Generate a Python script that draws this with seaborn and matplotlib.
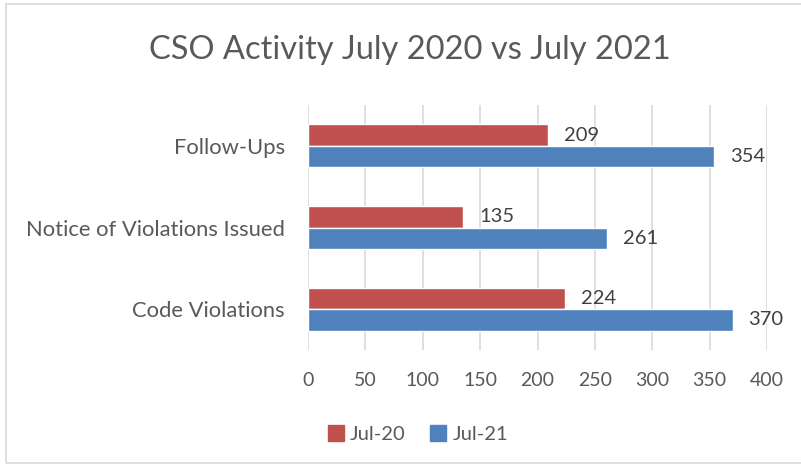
import matplotlib
matplotlib.use('Agg')
import matplotlib.pyplot as plt
import seaborn as sns
import pandas as pd

categories = ['Follow-Ups', 'Notice of Violations Issued', 'Code Violations']
jul_20 = [209, 135, 224]
jul_21 = [354, 261, 370]
series = ['Jul-20', 'Jul-21']
x_ticks = [0, 50, 100, 150, 200, 250, 300, 350, 400]

df = pd.DataFrame({
    'category': categories * 2,
    'value': jul_20 + jul_21,
    'series': [series[0]] * 3 + [series[1]] * 3,
})

sns.set_theme(style='white')
plt.rcParams['font.family'] = ['Lato', 'DejaVu Sans']
text_color = '#595959'

fig = plt.figure(figsize=(8.01, 4.67), dpi=100)
ax = fig.add_axes([308 / 801, 1 - 350 / 467, 459 / 801, 245 / 467])

sns.barplot(data=df, y='category', x='value', hue='series', hue_order=series,
            order=categories, palette=['#C0504D', '#4F81BD'], orient='h',
            width=0.53, saturation=1, ax=ax, legend=False)

for container in ax.containers:
    ax.bar_label(container, padding=11.5, fontsize=14.5, color='#404040')

ax.set_xlim(0, 400)
ax.set_xticks(x_ticks)
ax.set_xlabel('')
ax.set_ylabel('')
ax.grid(axis='x', color='#D9D9D9', linewidth=1.2)
ax.set_axisbelow(True)
for side in ['top', 'right', 'bottom', 'left']:
    ax.spines[side].set_visible(False)
ax.tick_params(axis='x', labelsize=14, colors=text_color, pad=16, length=0)
ax.tick_params(axis='y', labelsize=15.8, colors=text_color, pad=16.5, length=0)

fig.text(410 / 801, 1 - 50 / 467, 'CSO Activity July 2020 vs July 2021',
         ha='center', va='center', fontsize=23.5, color=text_color)

handles = [plt.Rectangle((0, 0), 1, 1, color=c) for c in ['#C0504D', '#4F81BD']]
fig.legend(handles, series, loc='center', bbox_to_anchor=(418 / 801, 1 - 434 / 467),
           ncol=2, frameon=False, fontsize=14.5, handlelength=0.8, handleheight=0.8,
           handletextpad=0.3, columnspacing=1.2, labelcolor=text_color)

border = plt.Rectangle((6 / 801, 4 / 467), 1.0, 1 - 8 / 467, transform=fig.transFigure,
                       fill=False, edgecolor='#D9D9D9', linewidth=1.2)
fig.patches.append(border)

fig.savefig('out.png', dpi=100)
